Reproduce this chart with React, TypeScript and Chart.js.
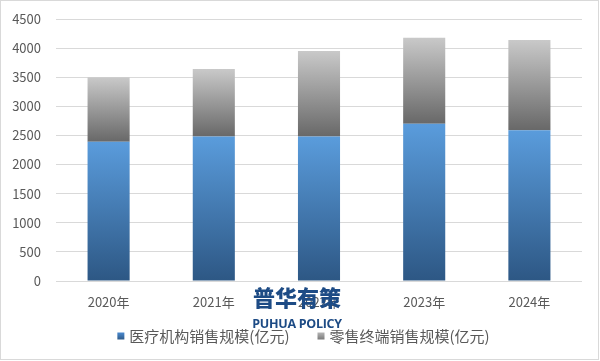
import React, { useEffect, useRef } from "react";
import { Chart, registerables } from "chart.js";

Chart.register(...registerables);

const categories = ["2020年", "2021年", "2022年", "2023年", "2024年"];
const medicalSales = [2390, 2480, 2480, 2700, 2590];
const retailSales = [1110, 1160, 1470, 1480, 1550];
const seriesNames = ["医疗机构销售规模(亿元)", "零售终端销售规模(亿元)"];
const yTicks = [0, 500, 1000, 1500, 2000, 2500, 3000, 3500, 4000, 4500];

const FONT = "'Microsoft YaHei', 'Noto Sans CJK SC', sans-serif";

function gradientFor(ctx: any) {
  const chart = ctx.chart;
  const area = chart.chartArea;
  const isBlue = ctx.datasetIndex === 0;
  if (!area || ctx.dataIndex === undefined) return isBlue ? "#4a87c8" : "#999999";
  const y = chart.scales.y;
  const i = ctx.dataIndex;
  const start = isBlue ? 0 : medicalSales[i];
  const end = isBlue ? medicalSales[i] : medicalSales[i] + retailSales[i];
  const y0 = y.getPixelForValue(start);
  const y1 = y.getPixelForValue(end);
  const g = chart.ctx.createLinearGradient(0, y1, 0, y0);
  if (isBlue) {
    g.addColorStop(0, "#5a9cdc");
    g.addColorStop(1, "#2d5784");
  } else {
    g.addColorStop(0, "#c9c9c9");
    g.addColorStop(1, "#686868");
  }
  return g;
}

const legendColors = [
  ["#4a8ad0", "#2f5b8a"],
  ["#b5b5b5", "#7a7a7a"],
];

const decorPlugin = {
  id: "decor",
  afterDraw(chart: any) {
    const c = chart.ctx;
    c.save();
    // outer border
    c.strokeStyle = "#d9d9d9";
    c.lineWidth = 1;
    c.strokeRect(0.5, 0.5, 598, 359);
    // legend
    c.font = `15px ${FONT}`;
    c.textBaseline = "middle";
    c.textAlign = "left";
    const box = 7;
    const gapBoxText = 5;
    const gapItems = 28;
    const widths = seriesNames.map((n) => c.measureText(n).width);
    const total = widths.reduce((a, w) => a + box + gapBoxText + w, 0) + gapItems * (seriesNames.length - 1);
    let x = 303.5 - total / 2;
    const cy = 336;
    seriesNames.forEach((n, k) => {
      const g = c.createLinearGradient(0, cy - box / 2, 0, cy + box / 2);
      g.addColorStop(0, legendColors[k][0]);
      g.addColorStop(1, legendColors[k][1]);
      c.fillStyle = g;
      c.fillRect(x, cy - box / 2, box, box);
      x += box + gapBoxText;
      c.fillStyle = "#595959";
      c.fillText(n, x, cy);
      x += widths[k] + gapItems;
    });
    c.restore();
  },
};

export default function App() {
  const ref = useRef<HTMLCanvasElement | null>(null);
  useEffect(() => {
    if (!ref.current) return;
    const chart = new Chart(ref.current, {
      type: "bar",
      data: {
        labels: categories,
        datasets: [
          {
            label: seriesNames[0],
            data: medicalSales,
            backgroundColor: gradientFor,
            barPercentage: 0.4,
            categoryPercentage: 1,
          },
          {
            label: seriesNames[1],
            data: retailSales,
            backgroundColor: gradientFor,
            barPercentage: 0.4,
            categoryPercentage: 1,
          },
        ],
      },
      options: {
        responsive: false,
        animation: false,
        devicePixelRatio: 1,
        layout: { padding: { left: 0, right: 18, top: 19, bottom: 47 } },
        plugins: {
          tooltip: { enabled: false },
          legend: { display: false },
        },
        scales: {
          x: {
            stacked: true,
            grid: { display: false },
            border: { display: false },
            ticks: { color: "#595959", font: { family: FONT, size: 13 }, padding: 5, maxRotation: 0 },
            afterFit: (s: any) => { s.height = 33; s.paddingLeft = 0; s.paddingRight = 0; },
          },
          y: {
            stacked: true,
            min: 0,
            max: 4500,
            afterBuildTicks: (s: any) => { s.ticks = yTicks.map((v) => ({ value: v })); },
            grid: { color: "#d9d9d9", drawTicks: false },
            border: { display: false },
            ticks: {
              color: "#595959",
              font: { family: FONT, size: 13 },
              padding: 15,
              callback: (v: any) => String(v),
            },
            afterFit: (s: any) => { s.width = 56; s.paddingTop = 0; s.paddingBottom = 0; },
          },
        },
      },
      plugins: [decorPlugin],
    } as any);
    return () => chart.destroy();
  }, []);

  return (
    <div style={{ position: "absolute", left: 0, top: 0, width: 600, height: 361, background: "#fff" }}>
      <canvas ref={ref} width={600} height={361} style={{ display: "block" }} />
      <div
        style={{
          position: "absolute",
          left: 243,
          top: 285,
          width: 108,
          textAlign: "center",
          color: "#1d4b85",
          fontFamily: "'Noto Sans CJK SC', sans-serif",
          fontWeight: 900,
          lineHeight: 1,
          whiteSpace: "nowrap",
          pointerEvents: "none",
        }}
      >
        <div style={{ fontSize: 22 }}>普华有策</div>
        <div style={{ fontSize: 12.5, marginTop: 11, fontFamily: "'Open Sans', sans-serif", fontWeight: 700, letterSpacing: -0.3 }}>PUHUA POLICY</div>
      </div>
    </div>
  );
}
